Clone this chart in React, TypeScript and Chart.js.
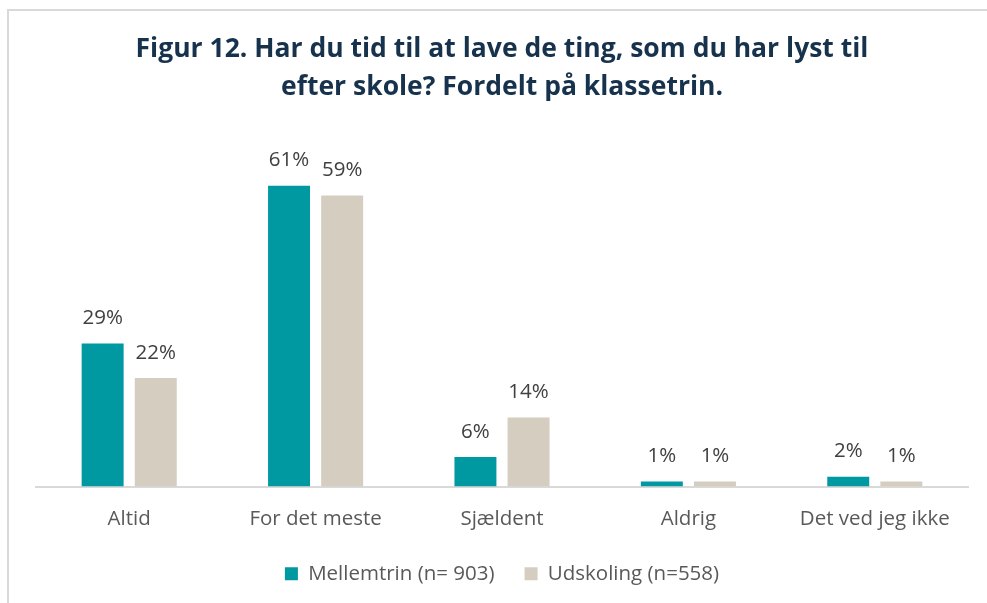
import React, { useEffect, useRef } from "react";
import { Chart, registerables } from "chart.js";

Chart.register(...registerables);

const categories = ["Altid", "For det meste", "Sjældent", "Aldrig", "Det ved jeg ikke"];
const mellemtrin = [29, 61, 6, 1, 2];
const udskoling = [22, 59, 14, 1, 1];
const seriesLabels = ["Mellemtrin (n= 903)", "Udskoling (n=558)"];
const titleLines = [
  "Figur 12. Har du tid til at lave de ting, som du har lyst til",
  "efter skole? Fordelt på klassetrin.",
];

const FONT = "'Open Sans'";
const TEXT_SIZE = 20.5;

const dataLabelPlugin = {
  id: "dataLabels",
  afterDatasetsDraw(chart: any) {
    const ctx = chart.ctx;
    ctx.save();
    ctx.font = `${TEXT_SIZE}px ${FONT}`;
    ctx.fillStyle = "#404040";
    ctx.textAlign = "center";
    ctx.textBaseline = "middle";
    chart.data.datasets.forEach((ds: any, i: number) => {
      const meta = chart.getDatasetMeta(i);
      meta.data.forEach((bar: any, j: number) => {
        ctx.fillText(ds.data[j] + "%", bar.x, bar.y - 25);
      });
    });
    ctx.restore();
  },
};

export default function App() {
  const ref = useRef<HTMLCanvasElement>(null);
  useEffect(() => {
    if (!ref.current) return;
    const chart = new Chart(ref.current, {
      type: "bar",
      data: {
        labels: categories,
        datasets: [
          {
            label: seriesLabels[0],
            data: mellemtrin,
            backgroundColor: "#0099A2",
            categoryPercentage: 0.57,
            barPercentage: 0.79,
          },
          {
            label: seriesLabels[1],
            data: udskoling,
            backgroundColor: "#D4CDC0",
            categoryPercentage: 0.57,
            barPercentage: 0.79,
          },
        ],
      },
      options: {
        responsive: false,
        animation: false,
        devicePixelRatio: 1,
        layout: { padding: { left: 36, right: 19, top: 31, bottom: 9 } },
        plugins: {
          title: {
            display: true,
            text: titleLines,
            color: "#17324D",
            font: { family: FONT, size: 26.5, weight: "bold", lineHeight: 1.42 },
            padding: { top: 0, bottom: 35 },
          },
          legend: {
            position: "bottom",
            labels: {
              boxWidth: 13,
              boxHeight: 13,
              color: "#595959",
              font: { family: FONT, size: TEXT_SIZE },
              padding: 30,
            },
          },
          tooltip: { enabled: false },
        },
        scales: {
          x: {
            grid: { display: false },
            border: { display: true, color: "#D9D9D9", width: 2 },
            ticks: {
              color: "#595959",
              font: { family: FONT, size: TEXT_SIZE },
              padding: 12,
              maxRotation: 0,
            },
            afterFit: (scale: any) => {
              scale.height = 47;
            },
          },
          y: {
            display: false,
            min: 0,
            max: 70,
          },
        },
      },
      plugins: [dataLabelPlugin],
    });
    return () => chart.destroy();
  }, []);

  return (
    <div
      style={{
        position: "fixed",
        left: 0,
        top: 0,
        width: 987,
        height: 603,
        background: "#fff",
        overflow: "hidden",
      }}
    >
      <div
        style={{
          position: "absolute",
          left: 7,
          top: 9,
          width: 1000,
          height: 700,
          borderTop: "2px solid #D9D9D9",
          borderLeft: "2px solid #D9D9D9",
          boxSizing: "border-box",
        }}
      />
      <canvas
        ref={ref}
        width={987}
        height={603}
        style={{ position: "absolute", left: 0, top: 0 }}
      />
    </div>
  );
}
